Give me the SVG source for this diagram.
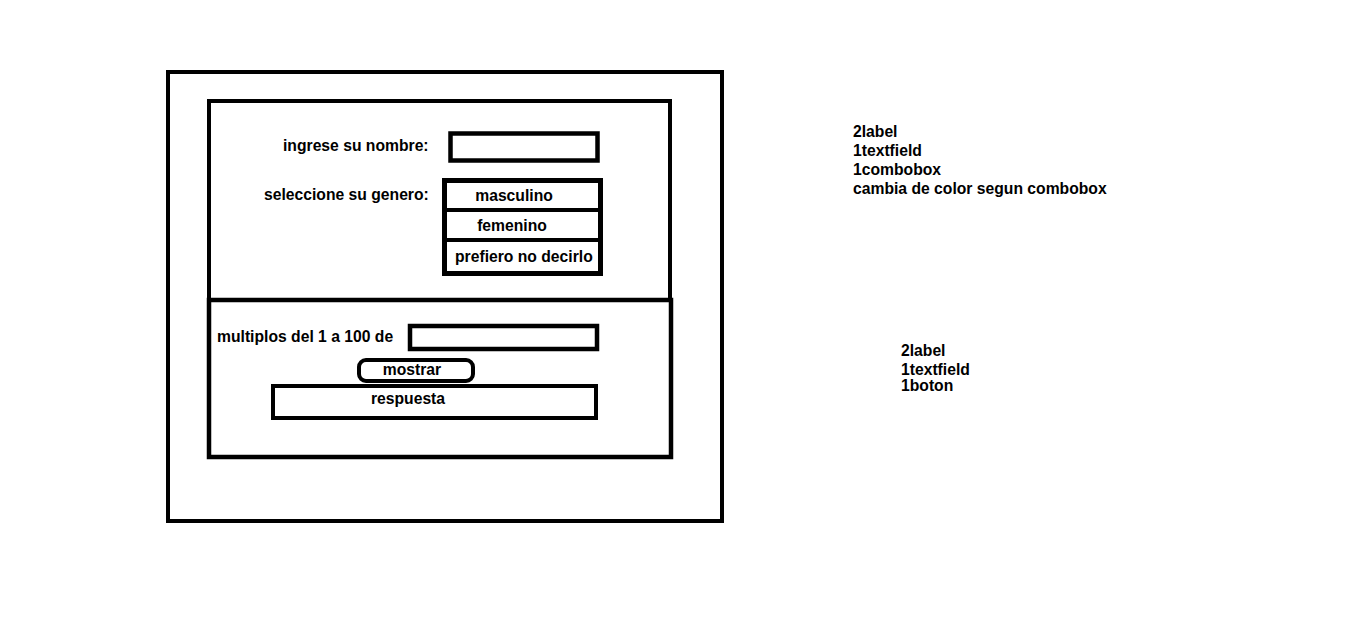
<svg xmlns="http://www.w3.org/2000/svg" width="1354" height="624" viewBox="0 0 1354 624">
<style>
.box{fill:none;stroke:#000;stroke-width:4}
.t{font-family:"Liberation Sans",Arial,sans-serif;font-weight:bold;font-size:15.7px;fill:#000}
</style>
<rect width="1354" height="624" fill="#fff"/>
<g id="window">
<rect class="box" x="168" y="72" width="554" height="449"/>
</g>
<g id="panel-top">
<rect class="box" x="209" y="101" width="461" height="199"/>
</g>
<g id="panel-bottom">
<rect class="box" x="209" y="300" width="462" height="157" style="stroke-width:4.5"/>
</g>
<g id="label-nombre"><text class="t" x="283" y="151">ingrese su nombre:</text></g>
<g id="textfield-nombre"><rect class="box" x="450.5" y="133.5" width="147" height="27" style="stroke-width:4.5"/></g>
<g id="label-genero"><text class="t" x="264" y="200">seleccione su genero:</text></g>
<g id="combobox">
<rect class="box" x="444.5" y="180.5" width="156" height="93" style="stroke-width:5"/>
<line x1="444" y1="210" x2="601" y2="210" stroke="#000" stroke-width="4"/>
<line x1="444" y1="240" x2="601" y2="240" stroke="#000" stroke-width="4"/>
<text class="t" x="514" y="201" text-anchor="middle">masculino</text>
<text class="t" x="512" y="231" text-anchor="middle">femenino</text>
<text class="t" x="455" y="262">prefiero no decirlo</text>
</g>
<g id="label-multiplos"><text class="t" x="217" y="342">multiplos del 1 a 100 de</text></g>
<g id="textfield-multiplos"><rect class="box" x="410" y="326" width="187" height="23" style="stroke-width:4.5"/></g>
<g id="boton-mostrar">
<rect class="box" x="359" y="360" width="114" height="21" rx="7" ry="7" style="stroke-width:4"/>
<text class="t" x="412" y="375" text-anchor="middle">mostrar</text>
</g>
<g id="respuesta">
<rect class="box" x="273" y="386" width="323" height="32"/>
<text class="t" x="408" y="404" text-anchor="middle">respuesta</text>
</g>
<g id="notas-1">
<text class="t" x="853" y="137">2label</text>
<text class="t" x="853" y="156">1textfield</text>
<text class="t" x="853" y="175">1combobox</text>
<text class="t" x="853" y="194">cambia de color segun combobox</text>
</g>
<g id="notas-2">
<text class="t" x="901" y="356">2label</text>
<text class="t" x="901" y="375">1textfield</text>
<text class="t" x="901" y="391">1boton</text>
</g>
<g id="connectors"/>
</svg>
